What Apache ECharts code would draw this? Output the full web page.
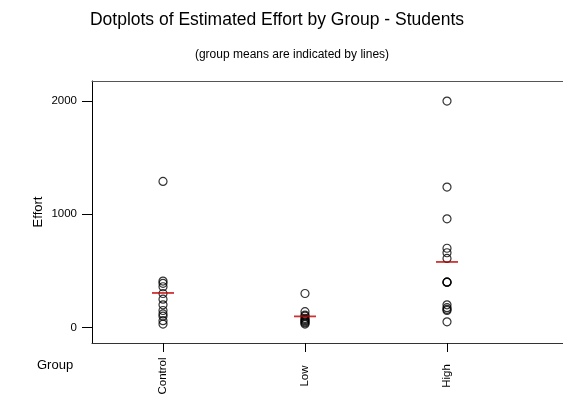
<!DOCTYPE html>
<html><head><meta charset="utf-8">
<script src="https://cdn.jsdelivr.net/npm/echarts@6/dist/echarts.min.js"></script>
<style>html,body{margin:0;padding:0;background:#fff}#c{width:563px;height:404px}</style>
</head><body><div id="c"></div>
<script>
var categories = ['Control', 'Low', 'High'];
var controlValues = [1290, 410, 390, 360, 300, 250, 200, 150, 120, 100, 60, 30];
var lowValues = [300, 140, 110, 100, 80, 70, 60, 50, 40, 30];
var highValues = [2000, 1240, 960, 700, 660, 610, 400, 400, 400, 200, 175, 160, 150, 50];
var yTicks = [0, 1000, 2000];

var groups = [controlValues, lowValues, highValues];
var points = [];
var means = [];
groups.forEach(function (vals, i) {
  var s = 0;
  vals.forEach(function (v) { points.push([i + 1, v]); s += v; });
  means.push([i + 1, s / vals.length]);
});

var font = 'Liberation Sans, Arial, sans-serif';
var xMin = 0.5, xMax = 0.5 + 471 / 142;
var chart = echarts.init(document.getElementById('c'));
chart.setOption({
  animation: false,
  backgroundColor: '#fff',
  title: [
    { text: 'Dotplots of Estimated Effort by Group - Students', left: 272, top: 6, textAlign: 'center',
      textStyle: { fontFamily: font, fontSize: 17.5, fontWeight: 'normal', color: '#000' } },
    { text: '(group means are indicated by lines)', left: 287, top: 44, textAlign: 'center',
      textStyle: { fontFamily: font, fontSize: 12, fontWeight: 'normal', color: '#000' } },
    { text: 'Group', left: 32, top: 354,
      textStyle: { fontFamily: font, fontSize: 13, fontWeight: 'normal', color: '#000' } }
  ],
  grid: { left: 92, top: 81, right: 0, height: 262, show: false },
  xAxis: [{
    type: 'value', min: xMin, max: xMax, position: 'bottom',
    splitLine: { show: false },
    axisLine: { show: true, onZero: false, lineStyle: { color: '#333', width: 1 } },
    axisTick: { show: true, length: 9, customValues: [1, 2, 3], lineStyle: { color: '#000' } },
    axisLabel: { customValues: [1, 2, 3], rotate: 90, margin: 33, align: 'center', verticalAlign: 'middle',
      fontFamily: font, fontSize: 11.5, color: '#000',
      formatter: function (v) { return categories[Math.round(v) - 1] || ''; } }
  }, {
    type: 'value', min: xMin, max: xMax, position: 'top',
    splitLine: { show: false },
    axisLine: { show: true, onZero: false, lineStyle: { color: '#555', width: 1 } },
    axisTick: { show: false }, axisLabel: { show: false }
  }],
  yAxis: {
    type: 'value', min: -137, max: 2177,
    name: 'Effort', nameLocation: 'middle', nameGap: 47, nameRotate: 90, nameMoveOverlap: false,
    nameTextStyle: { fontFamily: font, fontSize: 13, color: '#000' },
    splitLine: { show: false },
    axisLine: { show: true, onZero: false, lineStyle: { color: '#000', width: 1 } },
    axisTick: { show: true, length: 10, customValues: yTicks, lineStyle: { color: '#000' } },
    axisLabel: { customValues: yTicks, margin: 15, fontFamily: font, fontSize: 11.5, color: '#000',
      formatter: function (v) { return String(v); } }
  },
  series: [
    { type: 'scatter', data: points, symbol: 'circle', symbolSize: 8,
      itemStyle: { color: 'rgba(0,0,0,0)', borderColor: '#000', borderWidth: 1.2 } },
    { type: 'scatter', data: means, symbol: 'rect', symbolSize: [22, 1.8], z: 5,
      itemStyle: { color: '#c00000' } }
  ]
});
</script></body></html>
